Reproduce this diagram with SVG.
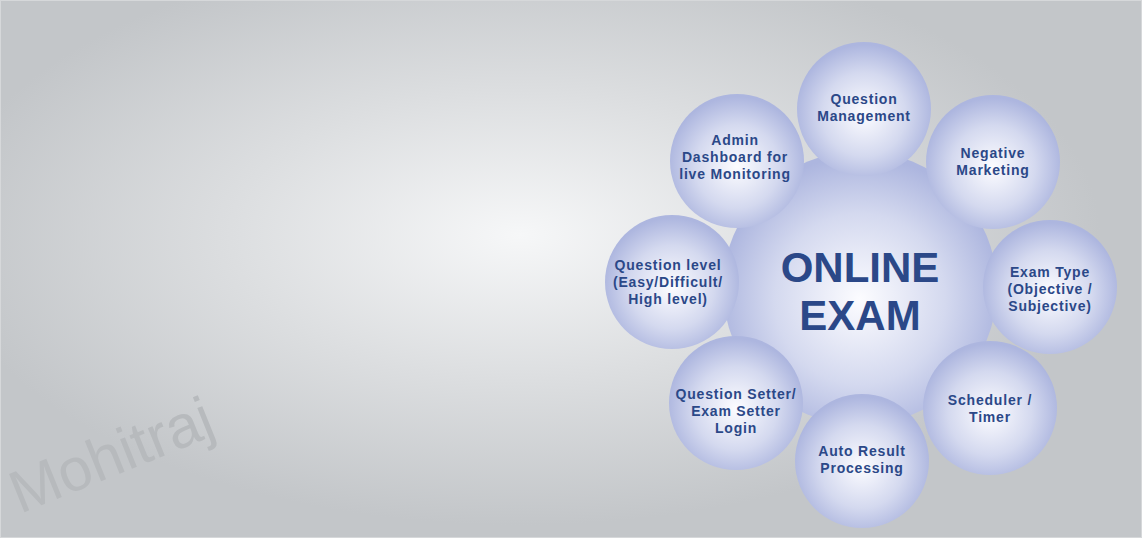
<svg xmlns="http://www.w3.org/2000/svg" width="1142" height="538" viewBox="0 0 1142 538">
  <defs>
    <radialGradient id="bg" gradientUnits="userSpaceOnUse" cx="520" cy="235" r="580" gradientTransform="translate(520 235) scale(1 0.5) translate(-520 -235)">
      <stop offset="0" stop-color="#f6f7f8"/>
      <stop offset="0.5" stop-color="#dcdee0"/>
      <stop offset="1" stop-color="#c3c6c9"/>
    </radialGradient>
    <radialGradient id="ball" cx="0.5" cy="0.54" r="0.52">
      <stop offset="0" stop-color="#fcfcff"/>
      <stop offset="0.6" stop-color="#d4d9ef"/>
      <stop offset="1" stop-color="#adb6df"/>
    </radialGradient>
  </defs>
  <style>
    .node circle { fill: url(#ball); }
    .lbl { font-family: "Liberation Sans", Arial, sans-serif; font-weight: bold; font-size: 14px; fill: #2b4888; text-anchor: middle; letter-spacing: 0.8px; }
    .big { font-family: "Liberation Sans", Arial, sans-serif; font-weight: bold; font-size: 42px; fill: #2b4888; text-anchor: middle; }
    .wm { font-family: "Liberation Sans", Arial, sans-serif; font-size: 60px; fill: #b7babd; }
  </style>
  <rect x="0" y="0" width="1142" height="538" fill="url(#bg)"/>
  <rect x="0.5" y="0.5" width="1141" height="537" fill="none" stroke="#d6d8da" stroke-width="1"/>
  <text class="wm" transform="translate(20 514) rotate(-22)">Mohitraj</text>

  <g id="center" class="node">
    <circle cx="860" cy="288" r="137"/>
    <text class="big" x="860" y="282">ONLINE</text>
    <text class="big" x="860" y="330">EXAM</text>
  </g>
  <g id="question-management" class="node">
    <circle cx="864" cy="109" r="67"/>
    <text class="lbl" x="864" y="104">Question</text>
    <text class="lbl" x="864" y="121">Management</text>
  </g>
  <g id="negative-marketing" class="node">
    <circle cx="993" cy="162" r="67"/>
    <text class="lbl" x="993" y="158">Negative</text>
    <text class="lbl" x="993" y="175">Marketing</text>
  </g>
  <g id="exam-type" class="node">
    <circle cx="1050" cy="287" r="67"/>
    <text class="lbl" x="1050" y="277">Exam Type</text>
    <text class="lbl" x="1050" y="294">(Objective /</text>
    <text class="lbl" x="1050" y="311">Subjective)</text>
  </g>
  <g id="scheduler" class="node">
    <circle cx="990" cy="408" r="67"/>
    <text class="lbl" x="990" y="405">Scheduler /</text>
    <text class="lbl" x="990" y="422">Timer</text>
  </g>
  <g id="auto-result" class="node">
    <circle cx="862" cy="461" r="67"/>
    <text class="lbl" x="862" y="456">Auto Result</text>
    <text class="lbl" x="862" y="473">Processing</text>
  </g>
  <g id="question-setter" class="node">
    <circle cx="736" cy="403" r="67"/>
    <text class="lbl" x="736" y="399">Question Setter/</text>
    <text class="lbl" x="736" y="416">Exam Setter</text>
    <text class="lbl" x="736" y="433">Login</text>
  </g>
  <g id="question-level" class="node">
    <circle cx="672" cy="282" r="67"/>
    <text class="lbl" x="668" y="270">Question level</text>
    <text class="lbl" x="668" y="287">(Easy/Difficult/</text>
    <text class="lbl" x="668" y="304">High level)</text>
  </g>
  <g id="admin-dashboard" class="node">
    <circle cx="737" cy="161" r="67"/>
    <text class="lbl" x="735" y="145">Admin</text>
    <text class="lbl" x="735" y="162">Dashboard for</text>
    <text class="lbl" x="735" y="179">live Monitoring</text>
  </g>
  <g id="connectors"></g>
</svg>
